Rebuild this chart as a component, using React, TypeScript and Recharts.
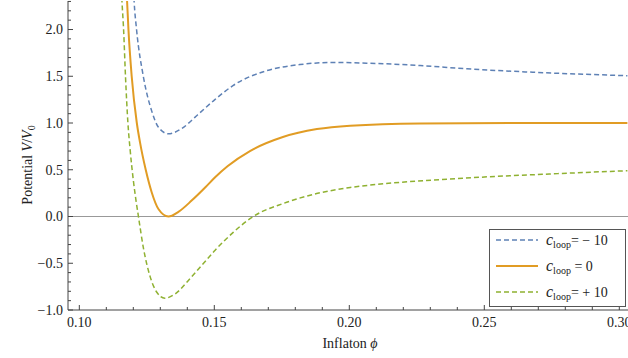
import React from 'react';
import { LineChart, Line, XAxis, YAxis, ReferenceLine, Legend } from 'recharts';

// c_loop = -10 (blue, dashed)
const phiNeg = [0.1198, 0.1203, 0.1212, 0.1237, 0.1268, 0.1293, 0.1330, 0.1379, 0.1428, 0.1447, 0.1502, 0.1569, 0.1694, 0.1817, 0.1940, 0.2064, 0.2262, 0.2435, 0.2680, 0.3009, 0.3030];
const vNeg = [2.60, 2.30, 2.00, 1.50, 1.13, 0.955, 0.885, 0.94, 1.06, 1.11, 1.25, 1.40, 1.56, 1.625, 1.648, 1.64, 1.615, 1.58, 1.543, 1.508, 1.506];

// c_loop = 0 (orange, solid)
const phiZero = [0.1172, 0.1177, 0.1182, 0.1194, 0.1213, 0.1225, 0.1246, 0.1268, 0.1293, 0.1330, 0.1367, 0.1416, 0.1466, 0.1503, 0.1550, 0.1632, 0.1754, 0.1880, 0.2003, 0.2262, 0.2600, 0.3030];
const vZero = [2.60, 2.30, 2.00, 1.50, 1.00, 0.79, 0.50, 0.26, 0.08, 0.00, 0.05, 0.17, 0.31, 0.42, 0.54, 0.70, 0.85, 0.935, 0.972, 0.996, 1.0, 1.0];

// c_loop = +10 (green, dashed)
const phiPos = [0.1153, 0.1158, 0.1164, 0.1171, 0.1180, 0.1188, 0.1200, 0.1210, 0.1219, 0.1237, 0.1262, 0.1287, 0.1317, 0.1354, 0.1404, 0.1453, 0.1503, 0.1570, 0.1644, 0.1756, 0.1879, 0.2003, 0.2126, 0.2311, 0.2484, 0.2743, 0.3030];
const vPos = [2.60, 2.30, 2.00, 1.50, 1.00, 0.72, 0.39, 0.17, 0.00, -0.33, -0.64, -0.81, -0.874, -0.83, -0.684, -0.524, -0.36, -0.17, 0.00, 0.14, 0.245, 0.31, 0.35, 0.39, 0.42, 0.455, 0.49];

const xMajorTicks = [0.10, 0.15, 0.20, 0.25, 0.30];
const xMajorLabels = ['0.10', '0.15', '0.20', '0.25', '0.30'];
const yMajorTicks = [-1.0, -0.5, 0.0, 0.5, 1.0, 1.5, 2.0];
const yMajorLabels = ['\u22121.0', '\u22120.5', '0.0', '0.5', '1.0', '1.5', '2.0'];

const legendValues = ['= \u2212 10', ' = 0', '= + 10'];

const BLUE = '#5E81B5';
const ORANGE = '#E19C24';
const GREEN = '#8FB131';
const AXIS = '#444';
const FONT = '"Liberation Serif", "Times New Roman", serif';

const xTicks: number[] = [];
for (let i = 10; i <= 30; i++) xTicks.push(i / 100);
const yTicks: number[] = [];
for (let i = -10; i <= 23; i++) yTicks.push(i / 10);

const toData = (xs: number[], ys: number[]) => xs.map((p, i) => ({ phi: p, v: ys[i] }));

const near = (a: number, b: number) => Math.abs(a - b) < 1e-6;

const XTick = (props: any) => {
  const { x, y, payload, side } = props;
  const idx = xMajorTicks.findIndex(t => near(t, payload.value));
  const major = idx >= 0;
  const len = major ? 5 : 3;
  const dir = side === 'top' ? 1 : -1;
  return (
    <g>
      <line x1={x} x2={x} y1={y} y2={y + dir * len} stroke={AXIS} strokeWidth={1} />
      {major && side !== 'top' && (
        <text x={x} y={y + 17} textAnchor="middle" fontFamily={FONT} fontSize={14} fill="#222">
          {xMajorLabels[idx]}
        </text>
      )}
    </g>
  );
};

const YTick = (props: any) => {
  const { x, y, payload } = props;
  const idx = yMajorTicks.findIndex(t => near(t, payload.value));
  const major = idx >= 0;
  const len = major ? 5 : 3;
  return (
    <g>
      <line x1={x} x2={x + len} y1={y} y2={y} stroke={AXIS} strokeWidth={1} />
      {major && (
        <text x={x - 5} y={y + 4.8} textAnchor="end" fontFamily={FONT} fontSize={14} fill="#222">
          {yMajorLabels[idx]}
        </text>
      )}
    </g>
  );
};

const XTitle = () => (
  <text x={350} y={348} textAnchor="middle" fontFamily={FONT} fontSize={14} fill="#222">
    Inflaton <tspan fontStyle="italic">{'\u03d5'}</tspan>
  </text>
);

const YTitle = () => (
  <text x={32} y={165} textAnchor="middle" fontFamily={FONT} fontSize={14} fill="#222" transform="rotate(-90 32 165)">
    Potential <tspan fontStyle="italic">V</tspan>/<tspan fontStyle="italic">V</tspan>
    <tspan fontSize={10} dy={3}>0</tspan>
  </text>
);

const LegendBox = () => {
  const rows = [
    { color: BLUE, dash: '5 3', width: 1.5 },
    { color: ORANGE, dash: undefined, width: 2 },
    { color: GREEN, dash: '5 3', width: 1.5 },
  ];
  return (
    <div style={{ position: 'relative', width: 135, height: 76, border: '1px solid #555', background: '#fff', fontFamily: FONT, color: '#222' }}>
      {rows.map((r, i) => (
        <div key={i} style={{ position: 'absolute', left: 0, top: i * 26, height: 26, width: 135 }}>
          <svg width={44} height={26} style={{ position: 'absolute', left: 5, top: 0 }}>
            <line x1={1} x2={43} y1={10} y2={10} stroke={r.color} strokeWidth={r.width} strokeDasharray={r.dash} />
          </svg>
          <div style={{ position: 'absolute', left: 56, top: 0, whiteSpace: 'nowrap', lineHeight: '20px', fontSize: 14 }}>
            <span style={{ fontStyle: 'italic', fontSize: 16 }}>c</span>
            <span style={{ fontSize: 10, position: 'relative', top: 3 }}>loop</span>
            <span style={{ whiteSpace: 'pre' }}>{legendValues[i]}</span>
          </div>
        </div>
      ))}
    </div>
  );
};

export default function App() {
  const xDomain = [0.09581, 0.30322];
  return (
    <div style={{ position: 'absolute', left: 0, top: 0, width: 628, height: 358, background: '#fff' }}>
      <LineChart width={628} height={358} margin={{ top: 1, right: 0, bottom: 0, left: 0 }}>
        <XAxis
          dataKey="phi"
          type="number"
          domain={xDomain}
          allowDataOverflow
          ticks={xTicks}
          interval={0}
          tickSize={0}
          tickMargin={0}
          tickLine={false}
          axisLine={{ stroke: AXIS }}
          tick={<XTick side="bottom" />}
          height={48}
          label={<XTitle />}
        />
        <XAxis
          xAxisId="top"
          orientation="top"
          dataKey="phi"
          type="number"
          domain={xDomain}
          allowDataOverflow
          ticks={xTicks}
          interval={0}
          tickSize={0}
          tickMargin={0}
          tickLine={false}
          axisLine={{ stroke: AXIS }}
          tick={<XTick side="top" />}
          height={0}
        />
        <YAxis
          type="number"
          domain={[-1, 2.305]}
          allowDataOverflow
          ticks={yTicks}
          interval={0}
          tickSize={0}
          tickMargin={0}
          tickLine={false}
          axisLine={{ stroke: AXIS }}
          tick={<YTick />}
          width={68}
          label={<YTitle />}
        />
        <ReferenceLine y={0} stroke="#999" strokeWidth={1} />
        <Line data={toData(phiNeg, vNeg)} dataKey="v" type="monotone" stroke={BLUE} strokeWidth={1.5} strokeDasharray="5 3" dot={false} isAnimationActive={false} />
        <Line data={toData(phiZero, vZero)} dataKey="v" type="monotone" stroke={ORANGE} strokeWidth={2} dot={false} isAnimationActive={false} />
        <Line data={toData(phiPos, vPos)} dataKey="v" type="monotone" stroke={GREEN} strokeWidth={1.5} strokeDasharray="5 3" dot={false} isAnimationActive={false} />
        <Legend
          layout="vertical"
          align="center"
          verticalAlign="middle"
          wrapperStyle={{ left: 489, top: 229, width: 137 }}
          content={<LegendBox />}
        />
      </LineChart>
    </div>
  );
}
